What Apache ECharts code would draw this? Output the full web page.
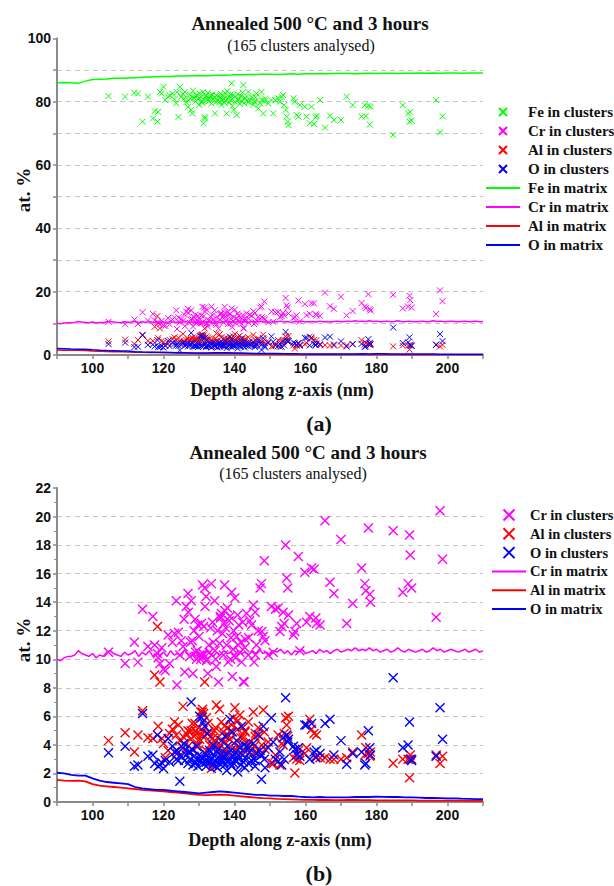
<!DOCTYPE html>
<html><head><meta charset="utf-8">
<script src="https://cdn.jsdelivr.net/npm/echarts@6/dist/echarts.min.js"></script>
<style>html,body{margin:0;padding:0;background:#fff}#c{width:614px;height:886px}</style>
</head><body><div id="c"></div>
<script>
// ---- cluster data (one entry per cluster) ----
const clusterDepth = [
104.5,109.2,111.8,112.8,114.1,115.6,117.0,117.5,118.3,118.5,
119.0,119.5,120.0,120.5,121.3,121.7,122.5,123.1,123.6,123.8,
124.2,124.6,125.0,125.5,125.8,126.0,126.4,126.9,127.0,127.4,
127.8,128.1,128.3,128.6,129.0,129.3,129.7,130.0,130.2,130.5,
130.7,131.0,131.1,131.3,131.6,131.7,132.0,132.3,132.5,132.8,
133.0,133.5,133.8,134.0,134.4,134.5,134.9,135.2,135.5,135.8,
136.1,136.3,136.6,136.9,137.2,137.3,137.5,137.8,138.0,138.2,
138.5,138.7,139.0,139.2,139.4,139.6,139.8,140.1,140.3,140.6,
140.9,141.2,141.5,141.8,142.0,142.3,142.5,142.7,143.0,143.4,
143.9,144.3,144.8,145.3,145.5,145.8,146.2,146.7,147.2,147.6,
147.7,148.1,148.4,148.6,149.5,150.4,150.9,151.5,152.3,152.8,
153.3,153.7,154.0,154.4,154.7,155.0,155.2,156.6,157.0,157.5,
158.0,158.4,159.8,160.3,161.2,161.7,162.4,163.1,164.1,165.5,
166.9,168.0,170.0,171.6,173.3,175.8,176.7,177.0,177.7,178.1,
178.3,184.7,187.4,188.9,189.3,189.5,189.9,196.8,197.9,198.6,
128.9,130.9,132.1,133.3,134.7,136.0,137.0,138.9,141.0,142.9,
144.0,145.9,127.6,129.5,162.9];
const feInClusters = [
81.8,81.6,82.8,82.6,73.7,81.6,74.7,77.0,73.7,76.8,
83.1,82.6,84.7,80.5,81.6,82.0,82.5,80.8,79.5,83.0,
75.2,84.7,81.5,82.5,81.0,83.1,79.8,78.3,80.5,82.2,
77.4,76.3,83.5,81.2,80.0,82.0,80.8,79.0,82.6,81.5,
80.0,79.6,83.0,73.2,75.2,74.7,81.8,80.6,82.8,80.2,
81.0,79.4,82.2,80.8,81.3,76.3,82.0,80.2,81.5,80.0,
82.5,79.0,80.7,81.8,79.6,82.8,80.3,76.3,83.3,81.0,
79.8,81.7,80.5,85.8,78.6,82.1,77.4,80.0,81.5,75.8,
82.4,80.8,79.3,81.8,80.2,82.9,85.3,79.5,81.0,80.3,
83.1,80.5,81.5,79.0,80.0,80.0,82.6,77.9,79.5,83.1,
80.5,76.3,80.2,81.0,79.5,80.5,76.3,80.5,81.1,80.0,
81.5,82.1,78.9,77.4,75.3,73.7,72.6,81.1,80.0,75.8,
75.3,79.0,78.4,75.3,73.2,78.4,72.9,75.5,80.5,71.8,
75.6,74.2,74.2,81.6,78.9,75.3,78.9,75.4,78.7,72.8,
78.4,69.5,78.9,76.3,73.7,76.8,74.0,80.5,70.3,75.4,
81.6,80.3,81.2,82.0,79.9,81.4,80.9,82.3,80.6,81.2,
79.9,81.4,80.9,81.9,75.0];
const crInClusters = [
10.5,9.7,11.2,9.8,13.5,10.9,13.0,11.0,10.4,10.1,
9.7,10.8,9.3,9.2,11.7,9.7,11.2,11.8,14.1,8.2,
11.9,10.3,11.3,10.9,12.8,9.1,13.7,14.6,13.3,10.2,
14.1,11.3,9.0,12.0,10.5,10.0,12.4,11.6,10.3,10.0,
12.5,15.2,10.4,12.3,15.0,13.7,14.4,10.0,9.0,11.0,
10.5,15.3,12.6,11.2,14.1,10.6,9.5,12.0,8.4,11.1,
12.9,13.2,11.8,10.3,15.2,13.4,12.2,11.0,13.6,9.8,
12.7,13.0,11.5,14.7,8.8,10.7,12.0,14.3,10.1,11.6,
13.1,12.4,10.5,11.2,9.8,12.6,8.45,8.4,11.4,13.2,
10.3,12.7,12.4,13.8,9.8,13.3,11.0,12.0,15.0,15.3,
11.95,11.6,16.9,11.3,10.3,13.7,10.5,13.5,13.6,11.95,
12.3,13.3,12.5,18.0,15.7,15.0,13.1,11.7,11.95,12.5,
17.2,10.6,16.1,12.6,13.0,16.4,16.3,12.5,12.4,19.7,
15.4,14.6,18.4,12.5,13.9,16.4,15.3,14.8,19.2,14.55,
14.0,19.0,14.7,15.3,18.7,17.3,15.0,12.95,20.4,17.0,
12.8,10.2,9.9,12.2,10.0,13.0,12.5,10.0,11.0,10.8,
11.5,10.3,11.2,10.6,12.9];
const alInClusters = [
4.3,4.85,3.5,4.7,6.4,4.5,4.45,8.9,12.3,5.3,
8.4,4.45,4.1,3.1,3.6,4.8,5.1,5.6,4.7,3.4,
5.4,4.3,3.9,6.7,4.5,3.6,4.8,5.0,3.9,4.9,
5.0,5.5,3.6,4.6,5.0,4.8,3.9,5.2,4.4,6.3,
4.7,6.5,5.0,6.2,8.4,4.6,3.6,4.8,5.5,4.9,
4.0,2.35,4.45,3.9,5.0,4.2,6.8,4.5,3.8,6.5,
4.0,5.6,3.3,4.9,5.3,4.2,3.6,4.6,5.2,4.7,
3.5,4.4,5.0,5.4,3.1,5.9,4.1,6.6,3.7,4.3,
5.1,3.9,6.1,4.5,3.4,5.2,4.5,3.6,4.9,3.9,
5.6,4.2,3.3,6.3,3.9,4.6,3.5,5.2,4.6,3.3,
4.0,6.45,4.9,3.7,4.2,2.7,2.7,3.3,4.7,2.6,
4.1,4.0,4.8,5.9,5.4,4.6,6.0,3.1,2.03,3.0,
3.6,2.9,3.4,3.8,5.8,5.1,4.8,4.7,3.1,3.1,
3.0,3.0,3.0,3.1,3.5,4.7,3.3,3.8,3.4,3.2,
3.5,2.72,3.0,3.0,1.7,3.3,3.0,3.3,2.7,3.2,
5.5,6.3,5.9,4.6,5.2,4.0,3.2,4.9,5.7,5.0,
4.0,4.8,4.4,4.1,3.2];
const oInClusters = [
3.45,3.9,2.5,2.6,6.2,3.2,3.3,2.7,4.7,2.5,
2.6,2.75,2.35,2.9,4.45,2.8,3.9,3.5,3.0,3.6,
2.9,1.45,3.2,3.8,4.1,2.9,3.3,2.7,3.5,3.0,
7.0,3.7,2.6,3.2,2.8,3.9,2.5,3.3,6.0,2.9,
5.9,3.0,5.6,2.7,5.3,3.4,2.5,4.8,3.1,2.8,
3.6,3.0,2.6,4.0,3.2,2.9,3.5,2.4,3.7,2.7,
3.3,4.3,2.9,3.1,2.6,4.6,3.4,2.2,3.9,2.8,
3.0,5.8,3.6,2.5,4.9,3.2,2.7,2.9,3.5,4.3,
2.1,3.0,3.8,2.6,5.3,3.3,2.8,4.0,3.1,3.9,
2.7,3.5,2.9,4.1,3.0,2.5,3.4,4.7,3.6,1.6,
3.3,5.3,3.0,2.4,3.8,5.9,4.2,3.0,2.85,3.5,
2.6,4.5,3.0,7.3,4.7,4.2,4.4,3.9,3.7,3.3,
3.8,3.2,5.4,5.4,3.0,5.5,3.5,3.6,3.4,5.5,
5.8,3.3,4.3,2.65,3.4,3.5,2.6,2.7,5.0,3.8,
3.3,8.7,3.8,4.0,5.6,3.0,2.9,3.2,6.6,4.4,
2.7,3.1,2.8,3.5,2.5,3.0,2.8,2.7,3.3,2.4,
3.8,2.9,3.5,3.0,3.1];

// ---- matrix profiles ----
const matrixDepth = [90,92,94,96,98,100,102,104,106,108,110,112,114,116,118,120,122,124,126,128,130,132,134,136,138,140,142,144,146,148,150,152,154,156,158,160,162,164,166,168,170,172,174,176,178,180,182,184,186,188,190,192,194,196,198,200,202,204,206,208,210];
const feInMatrix = [86.0,86.1,86.0,85.8,86.5,87.0,87.1,87.2,87.4,87.4,87.5,87.6,87.7,87.8,87.9,88.0,88.0,88.1,88.1,88.2,88.3,88.2,88.3,88.4,88.4,88.5,88.5,88.6,88.6,88.7,88.7,88.6,88.7,88.8,88.7,88.8,88.8,88.9,88.8,88.9,88.9,88.9,88.8,88.9,89.0,88.9,89.0,89.0,88.9,89.0,89.0,89.1,89.0,89.1,89.0,89.1,89.1,89.0,89.1,89.1,89.1];
const alInMatrix = [1.55,1.5,1.48,1.5,1.45,1.25,1.15,1.1,1.05,1.0,0.95,0.9,0.85,0.82,0.78,0.75,0.7,0.65,0.6,0.55,0.5,0.48,0.5,0.52,0.5,0.45,0.4,0.35,0.3,0.27,0.25,0.22,0.2,0.18,0.16,0.15,0.15,0.14,0.14,0.13,0.13,0.14,0.14,0.13,0.13,0.12,0.12,0.12,0.11,0.11,0.11,0.1,0.1,0.1,0.1,0.09,0.09,0.09,0.08,0.08,0.08];
const oInMatrix = [2.05,2.0,1.9,1.85,1.85,1.65,1.5,1.4,1.35,1.3,1.25,1.05,0.95,0.9,0.85,0.85,0.8,0.75,0.7,0.65,0.6,0.65,0.7,0.75,0.7,0.65,0.6,0.55,0.5,0.5,0.45,0.45,0.42,0.42,0.38,0.35,0.33,0.35,0.33,0.32,0.32,0.33,0.35,0.36,0.35,0.37,0.36,0.35,0.35,0.33,0.32,0.3,0.28,0.28,0.27,0.25,0.25,0.23,0.22,0.2,0.2];
const crMatrixDepth = [90,91,92,93,94,95,96,97,98,99,100,101,102,103,104,105,106,107,108,109,110,111,112,113,114,115,116,117,118,119,120,121,122,123,124,125,126,127,128,129,130,131,132,133,134,135,136,137,138,139,140,141,142,143,144,145,146,147,148,149,150,151,152,153,154,155,156,157,158,159,160,161,162,163,164,165,166,167,168,169,170,171,172,173,174,175,176,177,178,179,180,181,182,183,184,185,186,187,188,189,190,191,192,193,194,195,196,197,198,199,200,201,202,203,204,205,206,207,208,209,210];
const crInMatrix = [10.0,9.9,10.1,10.2,10.2,10.3,10.6,10.4,10.3,10.2,10.4,10.1,10.3,10.2,10.5,10.6,10.4,10.3,10.2,10.5,10.3,10.4,10.6,10.2,10.5,10.3,10.6,10.2,10.4,10.3,10.5,10.2,10.6,10.3,10.4,10.2,10.7,10.3,10.5,10.2,10.4,10.3,10.6,10.4,10.2,10.5,10.3,10.6,10.4,10.5,10.3,10.6,10.4,10.5,10.3,10.6,10.4,10.7,10.4,10.5,10.3,10.6,10.5,10.7,10.4,10.6,10.3,10.6,10.5,10.7,10.4,10.5,10.6,10.4,10.7,10.5,10.6,10.4,10.6,10.7,10.5,10.6,10.7,10.6,10.8,10.6,10.7,10.6,10.8,10.6,10.7,10.5,10.6,10.7,10.5,10.6,10.8,10.6,10.5,10.7,10.6,10.5,10.6,10.7,10.5,10.6,10.8,10.6,10.7,10.5,10.6,10.7,10.6,10.5,10.6,10.7,10.5,10.6,10.7,10.5,10.6];

const xTickLabels = [100,120,140,160,180,200];
const yTickLabelsA = [0,20,40,60,80,100];
const yTickLabelsB = [0,2,4,6,8,10,12,14,16,18,20,22];

const COL = {Fe:'#00ff00', Cr:'#ff00ff', Al:'#ff0000', O:'#0000ff'};
const XSYM = 'path://M0 0L10 10M10 0L0 10';
const SERIF = '"Liberation Serif","Times New Roman",serif';
const SANS = '"Liberation Sans",Arial,sans-serif';

const pairs = (xs, ys) => xs.map((x, i) => [x, ys[i]]);

function xAxis(gi) {
  return {
    type: 'value', gridIndex: gi, min: 90, max: 210, interval: 10,
    axisLine: {show: true, onZero: false, lineStyle: {color: '#8a8a8a', width: 2}},
    axisTick: {show: true, length: 4, lineStyle: {color: '#8a8a8a', width: 1.5}},
    axisLabel: {margin: 6, color: '#111', fontFamily: SANS, fontWeight: 'bold', fontSize: 14,
      formatter: v => xTickLabels.indexOf(v) >= 0 ? String(v) : ''},
    splitLine: {show: false}
  };
}
function yAxis(gi, max, interval, labels, minor) {
  return {
    type: 'value', gridIndex: gi, min: 0, max: max, interval: interval,
    axisLine: {show: true, lineStyle: {color: '#8a8a8a', width: 2}},
    axisTick: {show: true, length: 4, lineStyle: {color: '#8a8a8a', width: 1.5}},
    minorTick: {show: minor, splitNumber: 2, length: 3, lineStyle: {color: '#8a8a8a', width: 1}},
    axisLabel: {margin: 6, color: '#111', fontFamily: SANS, fontWeight: 'bold', fontSize: 14,
      formatter: v => labels.indexOf(v) >= 0 ? String(v) : ''},
    splitLine: {show: true, showMinLine: false, showMaxLine: false,
      lineStyle: {color: '#c4c4c4', type: [5, 4], width: 1.2}}
  };
}
function scatter(name, ys, gi, size, bw) {
  const c = COL[name.split(' ')[0]];
  return {
    name: name, type: 'scatter', xAxisIndex: gi, yAxisIndex: gi,
    data: pairs(clusterDepth, ys), symbol: XSYM, symbolSize: size, symbolKeepAspect: true,
    itemStyle: {color: c, borderColor: c, borderWidth: bw, opacity: 1},
    emphasis: {disabled: true}, silent: true
  };
}
function line(name, xs, ys, gi, w) {
  const c = COL[name.split(' ')[0]];
  return {
    name: name, type: 'line', xAxisIndex: gi, yAxisIndex: gi,
    data: pairs(xs, ys), symbol: 'none', showSymbol: false,
    lineStyle: {color: c, width: w},
    itemStyle: {color: c},
    emphasis: {disabled: true}, silent: true
  };
}
// legend entries for matrix lines: hide the middle dot, keep only the line
const lineEntry = n => ({name: n, itemStyle: {color: 'rgba(0,0,0,0)', borderColor: 'rgba(0,0,0,0)', borderWidth: 0, opacity: 0}});

const option = {
  animation: false,
  backgroundColor: '#fff',
  grid: [
    {left: 57, top: 38.4, width: 426, height: 316.6, containLabel: false},
    {left: 57, top: 488, width: 426, height: 314, containLabel: false}
  ],
  xAxis: [xAxis(0), xAxis(1)],
  yAxis: [yAxis(0, 100, 10, yTickLabelsA, false), yAxis(1, 22, 2, yTickLabelsB, true)],
  legend: [
    {orient: 'vertical', left: 485, top: 104, padding: 0, itemGap: 3, itemWidth: 34, itemHeight: 8,
     textStyle: {fontFamily: SERIF, fontWeight: 'bold', fontSize: 15, color: '#111', lineHeight: 16, padding: [0, 0, 0, 3]},
     selectedMode: false,
     data: ['Fe in clusters','Cr in clusters','Al in clusters','O in clusters',
            lineEntry('Fe in matrix'), lineEntry('Cr in matrix'), lineEntry('Al in matrix'), lineEntry('O in matrix')]},
    {orient: 'vertical', left: 491, top: 507, padding: 0, itemGap: 2.8, itemWidth: 34, itemHeight: 11,
     textStyle: {fontFamily: SERIF, fontWeight: 'bold', fontSize: 14.5, color: '#111', lineHeight: 16, padding: [0, 0, 0, -1]},
     selectedMode: false,
     data: ['Cr in clusters','Al in clusters','O in clusters',
            lineEntry('Cr in matrix'), lineEntry('Al in matrix'), lineEntry('O in matrix')]}
  ],
  series: [
    scatter('Fe in clusters', feInClusters, 0, 6, 1),
    scatter('Cr in clusters', crInClusters, 0, 6, 1),
    scatter('Al in clusters', alInClusters, 0, 6, 1),
    scatter('O in clusters', oInClusters, 0, 6, 1),
    line('Fe in matrix', matrixDepth, feInMatrix, 0, 1.5),
    line('Cr in matrix', crMatrixDepth, crInMatrix, 0, 1.5),
    line('Al in matrix', matrixDepth, alInMatrix, 0, 1.5),
    line('O in matrix', matrixDepth, oInMatrix, 0, 1.5),
    scatter('Cr in clusters', crInClusters, 1, 9, 1.4),
    scatter('Al in clusters', alInClusters, 1, 9, 1.4),
    scatter('O in clusters', oInClusters, 1, 9, 1.4),
    line('Cr in matrix', crMatrixDepth, crInMatrix, 1, 1.5),
    line('Al in matrix', matrixDepth, alInMatrix, 1, 1.8),
    line('O in matrix', matrixDepth, oInMatrix, 1, 1.8)
  ],
  graphic: [
    {type: 'text', x: 310, y: 23.5, style: {text: 'Annealed 500 °C and 3 hours', font: 'bold 19px ' + SERIF, fill: '#111', align: 'center', verticalAlign: 'middle'}},
    {type: 'text', x: 301, y: 45, style: {text: '(165 clusters analysed)', font: '16px ' + SERIF, fill: '#111', align: 'center', verticalAlign: 'middle'}},
    {type: 'text', x: 282, y: 390, style: {text: 'Depth along z-axis (nm)', font: 'bold 18px ' + SERIF, fill: '#111', align: 'center', verticalAlign: 'middle'}},
    {type: 'text', x: 319, y: 423, style: {text: '(a)', font: 'bold 22px ' + SERIF, fill: '#111', align: 'center', verticalAlign: 'middle'}},
    {type: 'text', x: 23, y: 190, rotation: Math.PI / 2, style: {text: 'at. %', font: 'bold 19px ' + SERIF, fill: '#111', align: 'center', verticalAlign: 'middle'}},
    {type: 'text', x: 308, y: 452.7, style: {text: 'Annealed 500 °C and 3 hours', font: 'bold 19px ' + SERIF, fill: '#111', align: 'center', verticalAlign: 'middle'}},
    {type: 'text', x: 293, y: 473.5, style: {text: '(165 clusters analysed)', font: '16px ' + SERIF, fill: '#111', align: 'center', verticalAlign: 'middle'}},
    {type: 'text', x: 280, y: 840, style: {text: 'Depth along z-axis (nm)', font: 'bold 18px ' + SERIF, fill: '#111', align: 'center', verticalAlign: 'middle'}},
    {type: 'text', x: 319, y: 873, style: {text: '(b)', font: 'bold 22px ' + SERIF, fill: '#111', align: 'center', verticalAlign: 'middle'}},
    {type: 'text', x: 23, y: 640, rotation: Math.PI / 2, style: {text: 'at. %', font: 'bold 19px ' + SERIF, fill: '#111', align: 'center', verticalAlign: 'middle'}}
  ]
};

const chart = echarts.init(document.getElementById('c'), null, {renderer: 'svg', width: 614, height: 886});
chart.setOption(option);
</script></body></html>
